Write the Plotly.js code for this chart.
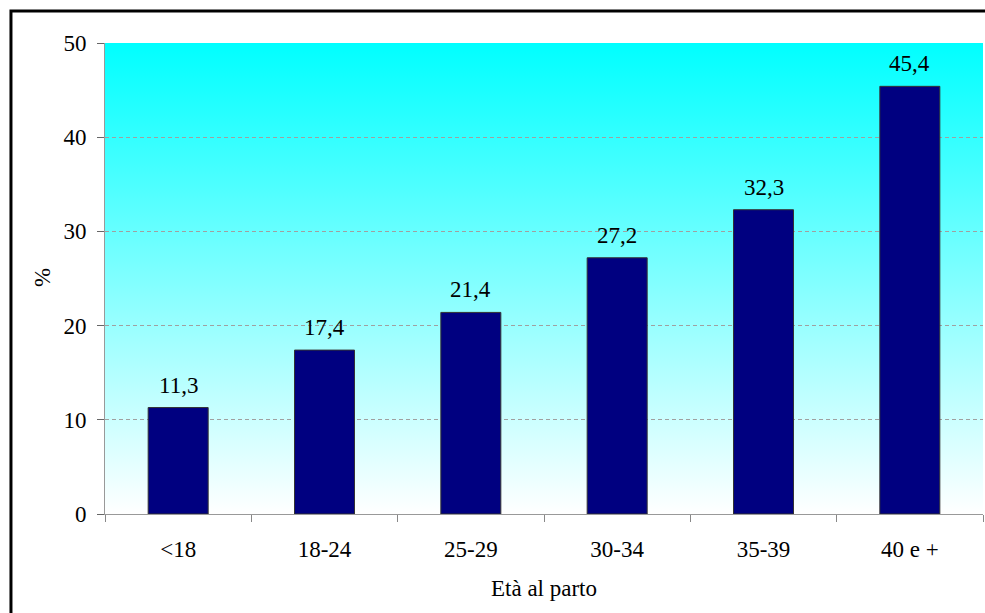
<!DOCTYPE html>
<html><head><meta charset="utf-8">
<script src="https://cdn.plot.ly/plotly-3.0.1.min.js"></script>
<style>html,body{margin:0;padding:0;background:#fff;overflow:hidden;} #chart{width:985px;height:613px;}</style>
</head><body><div id="chart"></div>
<script>
const categories = ['<18', '18-24', '25-29', '30-34', '35-39', '40 e +'];
const values = [11.3, 17.4, 21.4, 27.2, 32.3, 45.4];
const yTicks = [0, 10, 20, 30, 40, 50];
const xTitle = 'Età al parto';
const yTitle = '%';

const FONT = 'Liberation Serif';
const FS = 23;
const grad = 'data:image/svg+xml;charset=utf-8,' + encodeURIComponent(
  '<svg xmlns="http://www.w3.org/2000/svg" width="100" height="100" preserveAspectRatio="none">' +
  '<defs><linearGradient id="g" x1="0" y1="0" x2="0" y2="1">' +
  '<stop offset="0" stop-color="#00FFFF"/><stop offset="1" stop-color="#FFFFFF"/>' +
  '</linearGradient></defs><rect width="100" height="100" fill="url(#g)"/></svg>');

const fmt = v => v.toFixed(1).replace('.', ',');

const trace = {
  type: 'bar', x: categories, y: values,
  marker: {color: '#000080', line: {color: '#333333', width: 1}},
  hoverinfo: 'none'
};

const valueLabels = categories.map((c, i) => ({
  x: c, y: values[i], xref: 'x', yref: 'y', text: fmt(values[i]), showarrow: false,
  yanchor: 'bottom', yshift: 8, font: {family: FONT, size: FS, color: '#000000'}
}));

const layout = {
  width: 985, height: 613,
  margin: {l: 105, r: 2, t: 43, b: 99},
  paper_bgcolor: '#FFFFFF', plot_bgcolor: 'rgba(0,0,0,0)',
  font: {family: FONT, size: FS, color: '#000000'},
  bargap: 0.59,
  showlegend: false,
  xaxis: {
    type: 'category', tickson: 'boundaries', ticks: 'outside', ticklen: 7,
    tickcolor: '#888888', showline: true, linecolor: '#999999', linewidth: 1,
    showgrid: false, ticklabelstandoff: 14,
    tickfont: {family: FONT, size: FS, color: '#000000'},
    title: {text: xTitle, font: {family: FONT, size: FS, color: '#000000'}, standoff: 19}
  },
  yaxis: {
    range: [0, 50], tickmode: 'array', tickvals: yTicks, ticktext: yTicks.map(String),
    ticks: 'outside', ticklen: 7, tickcolor: '#666666',
    showline: true, linecolor: '#999999', linewidth: 1,
    showgrid: true, gridcolor: '#A0A0A0', gridwidth: 1, griddash: '4px,3px',
    zeroline: false, ticklabelstandoff: 6,
    tickfont: {family: FONT, size: FS, color: '#000000'}
  },
  images: [{source: grad, xref: 'paper', yref: 'paper', x: 0, y: 1, sizex: 1, sizey: 1,
    sizing: 'stretch', xanchor: 'left', yanchor: 'top', layer: 'below'}],
  annotations: valueLabels.concat([{
    text: yTitle, xref: 'paper', yref: 'paper', x: -0.0718, y: 0.503,
    xanchor: 'center', yanchor: 'middle', textangle: -90, showarrow: false,
    font: {family: FONT, size: FS, color: '#000000'}
  }]),
  shapes: [{
    type: 'rect', xref: 'paper', yref: 'paper', x0: -0.1071, x1: 1.2, y0: -0.5, y1: 1.0679,
    line: {color: '#000000', width: 3}, fillcolor: 'rgba(0,0,0,0)', layer: 'above'
  }]
};

Plotly.newPlot('chart', [trace], layout, {staticPlot: true, displayModeBar: false});
</script></body></html>
